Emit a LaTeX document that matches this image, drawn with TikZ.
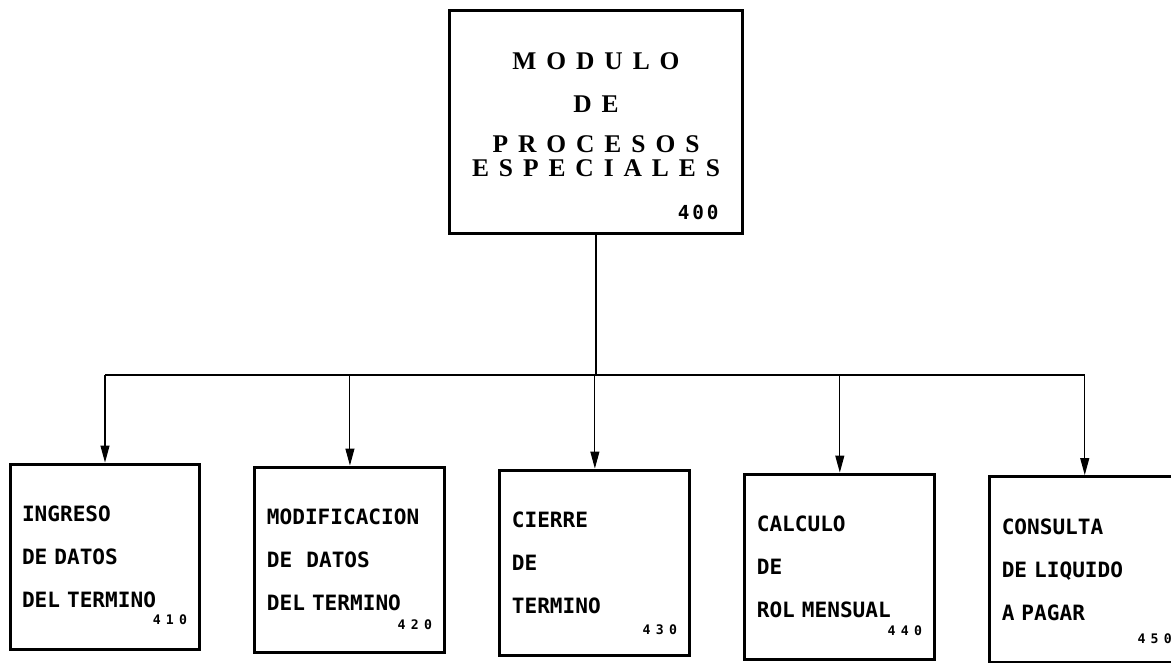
\documentclass[tikz,border=0pt]{standalone}
\usepackage{fontspec}
\setmainfont{Liberation Serif}
\newfontfamily\dotfont{DejaVu Sans Mono}
\newfontfamily\dotfontsp[LetterSpace=40]{DejaVu Sans Mono}
\newfontfamily\dotfontmid[LetterSpace=15]{DejaVu Sans Mono}
\newfontfamily\slabfont[LetterSpace=39]{Liberation Serif}
\usetikzlibrary{arrows.meta,positioning}

\begin{document}
\begin{tikzpicture}[
  x=0.02cm, y=-0.02cm,
  node distance=1.04cm,
  modbox/.style={draw,line width=1.7pt,minimum width=5.86cm,minimum height=4.46cm,inner sep=0pt},
  modtitle/.style={align=center,inner sep=0pt,font=\slabfont\bfseries\fontsize{14.5}{13.6}\selectfont},
  subbox/.style={draw,line width=1.7pt,minimum width=3.8cm,minimum height=3.72cm,
    text width=3.32cm,align=left,inner sep=0pt,font=\dotfont\bfseries\fontsize{12}{24.5}\selectfont},
  bignum/.style={inner sep=0pt,font=\dotfontmid\bfseries\fontsize{11}{12}\selectfont},
  smallnum/.style={inner sep=0pt,font=\dotfontsp\bfseries\fontsize{7.5}{8}\selectfont},
  arrow/.style={-{Triangle[length=3.4mm,width=1.8mm]},line width=0.6pt}
]
\useasboundingbox (0,0) rectangle (1171,663);

% modulo principal
\node[modbox] (m400) at (596,122) {};
\node[modtitle] (t400) at ([yshift=0.14cm]m400.center) {MODULO\\[0.38cm]DE\\[0.32cm]PROCESOS\\ESPECIALES};
\node[bignum,anchor=east] (n400) at ([xshift=-0.5cm,yshift=0.46cm]m400.south east) {400};

% submodulos
\node[subbox] (s410) at (105,557) {INGRESO\\DE DATOS\\DEL TERMINO};
\node[subbox,right=of s410,yshift=-0.06cm] (s420) {MODIFICACION\\DE~~DATOS\\DEL TERMINO};
\node[subbox,right=of s420,yshift=-0.06cm] (s430) {CIERRE\\DE\\TERMINO};
\node[subbox,right=of s430,yshift=-0.08cm] (s440) {CALCULO\\DE\\ROL MENSUAL};
\node[subbox,right=of s440,yshift=-0.05cm] (s450) {CONSULTA\\DE LIQUIDO\\A PAGAR};

\node[smallnum,anchor=east] (n410) at ([xshift=-0.28cm,yshift=0.64cm]s410.south east) {410};
\node[smallnum,anchor=east] (n420) at ([xshift=-0.28cm,yshift=0.6cm]s420.south east) {420};
\node[smallnum,anchor=east] (n430) at ([xshift=-0.28cm,yshift=0.56cm]s430.south east) {430};
\node[smallnum,anchor=east] (n440) at ([xshift=-0.28cm,yshift=0.62cm]s440.south east) {440};
\node[smallnum,anchor=east] (n450) at ([xshift=-0.18cm,yshift=0.5cm]s450.south east) {450};

% conexiones
\coordinate (busl) at (s410.north |- 0,375);
\coordinate (busr) at (s450.north |- 0,375);
\draw[line width=0.6pt] (busl) -- (busr);
\draw[line width=0.6pt] (m400.south) -- (m400.south |- busl);
\draw[arrow] (busl) -- (s410.north);
\draw[arrow] (s420.north |- busl) -- (s420.north);
\draw[arrow] (s430.north |- busl) -- (s430.north);
\draw[arrow] (s440.north |- busl) -- (s440.north);
\draw[arrow] (busr) -- (s450.north);
\end{tikzpicture}
\end{document}
